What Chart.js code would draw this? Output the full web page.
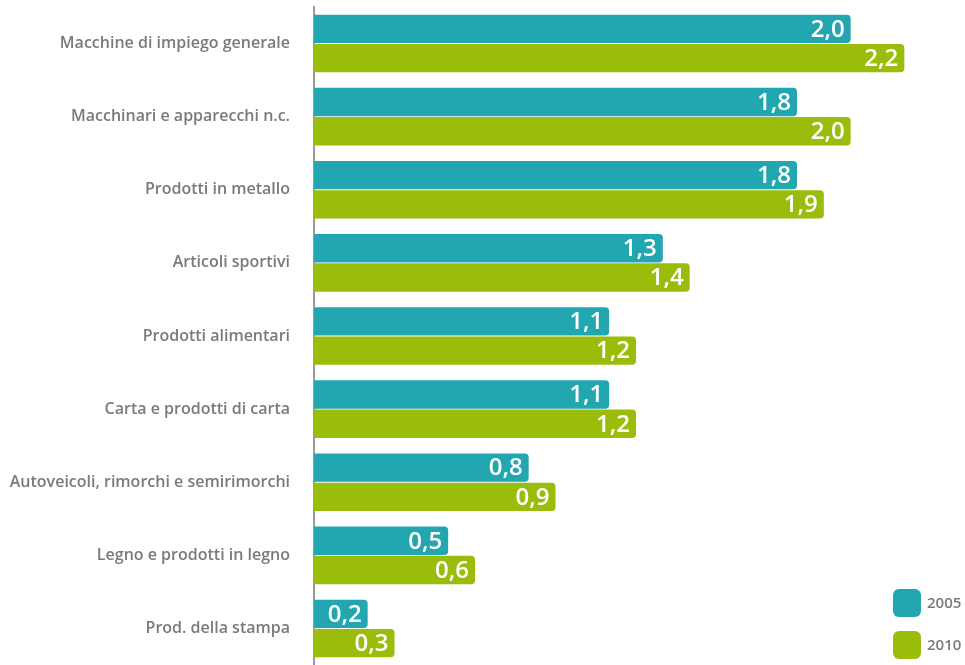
<!DOCTYPE html>
<html>
<head>
<meta charset="utf-8">
<script src="https://cdn.jsdelivr.net/npm/chart.js@4/dist/chart.umd.min.js"></script>
<style>
html, body { margin: 0; padding: 0; background: #fff; overflow: hidden; }
#wrap { width: 965px; height: 665px; position: relative; }
</style>
</head>
<body>
<div id="wrap"><canvas id="myChart"></canvas></div>
<script>
const categories = [
	'Macchine di impiego generale',
	'Macchinari e apparecchi n.c.',
	'Prodotti in metallo',
	'Articoli sportivi',
	'Prodotti alimentari',
	'Carta e prodotti di carta',
	'Autoveicoli, rimorchi e semirimorchi',
	'Legno e prodotti in legno',
	'Prod. della stampa'
];
const values2005 = [2.0, 1.8, 1.8, 1.3, 1.1, 1.1, 0.8, 0.5, 0.2];
const values2010 = [2.2, 2.0, 1.9, 1.4, 1.2, 1.2, 0.9, 0.6, 0.3];
const seriesNames = ['2005', '2010'];

const TEAL = '#22a7b1';
const GREEN = '#9abd0b';

// white value labels at the end of each bar
const valueLabels = {
	id: 'valueLabels',
	afterDatasetsDraw(chart) {
		const ctx = chart.ctx;
		ctx.save();
		ctx.fillStyle = '#ffffff';
		ctx.font = '600 24px "Open Sans"';
		ctx.textAlign = 'right';
		ctx.textBaseline = 'middle';
		chart.data.datasets.forEach((ds, i) => {
			chart.getDatasetMeta(i).data.forEach((bar, j) => {
				const txt = ds.data[j].toFixed(1).replace('.', ',');
				ctx.fillText(txt, bar.x - 6, bar.y + 1);
			});
		});
		ctx.restore();
	}
};

// legend in the lower right corner
const cornerLegend = {
	id: 'cornerLegend',
	afterDraw(chart) {
		const ctx = chart.ctx;
		ctx.save();
		ctx.font = '600 15px "Open Sans"';
		ctx.textAlign = 'left';
		ctx.textBaseline = 'middle';
		chart.data.datasets.forEach((ds, i) => {
			const x = 893, y = 589 + i * 42;
			ctx.fillStyle = ds.backgroundColor;
			ctx.beginPath();
			ctx.roundRect(x, y, 28, 28, 6);
			ctx.fill();
			ctx.fillStyle = '#7a7a7a';
			ctx.fillText(ds.label, x + 34, y + 15);
		});
		ctx.restore();
	}
};

new Chart(document.getElementById('myChart'), {
	type: 'bar',
	data: {
		labels: categories,
		datasets: [{
			label: seriesNames[0],
			data: values2005,
			backgroundColor: TEAL,
			borderRadius: 4,
			borderSkipped: 'start',
			barPercentage: 0.97,
			categoryPercentage: 0.8
		}, {
			label: seriesNames[1],
			data: values2010,
			backgroundColor: GREEN,
			borderRadius: 4,
			borderSkipped: 'start',
			barPercentage: 0.97,
			categoryPercentage: 0.8
		}]
	},
	options: {
		indexAxis: 'y',
		responsive: true,
		maintainAspectRatio: false,
		animation: false,
		layout: { padding: { top: 7, right: 7, bottom: 0, left: 0 } },
		plugins: {
			legend: { display: false },
			tooltip: { enabled: false }
		},
		scales: {
			x: {
				display: false,
				min: 0,
				max: 2.4
			},
			y: {
				afterFit(scale) {
					scale.width = 314;
					scale.paddingTop = 0;
					scale.paddingBottom = 0;
				},
				grid: { display: false, drawTicks: false },
				border: { display: true, color: '#9a9a9a', width: 2 },
				ticks: {
					padding: 24,
					color: '#7a7a7a',
					font: { family: '"Open Sans"', size: 16, weight: '600' }
				}
			}
		}
	},
	plugins: [valueLabels, cornerLegend]
});
</script>
</body>
</html>
